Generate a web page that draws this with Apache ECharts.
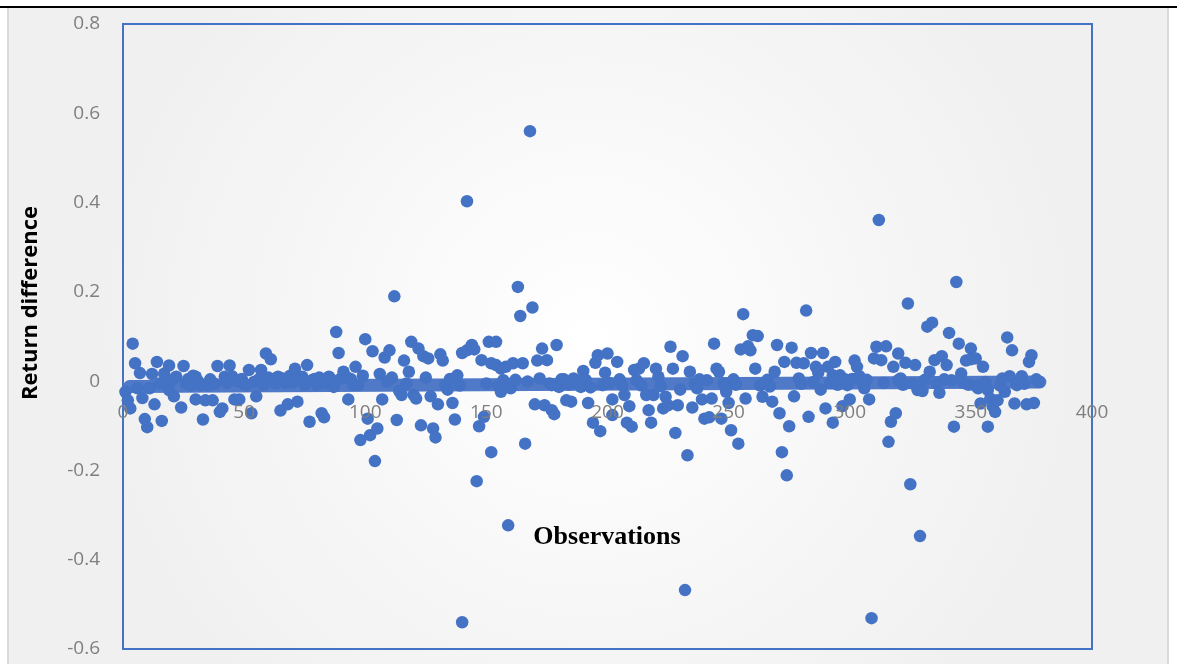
<!DOCTYPE html>
<html>
<head>
<meta charset="utf-8">
<script src="https://cdn.jsdelivr.net/npm/echarts@6/dist/echarts.min.js"></script>
<style>
  html, body { margin: 0; padding: 0; background: #fff; }
  #main { width: 1177px; height: 664px; }
</style>
</head>
<body>
<div id="main"></div>
<script>
// tick values
var xTicks = [0, 50, 100, 150, 200, 250, 300, 350, 400];
var yTicks = [-0.6, -0.4, -0.2, 0, 0.2, 0.4, 0.6, 0.8];

var observations = [
  [1,-0.024],[2,-0.043],[3,-0.061],[4,0.084],[5,0.040],[6,-0.016],[7,0.018],[8,-0.038],[9,-0.085],[10,-0.103],
  [11,-0.016],[12,0.016],[13,-0.052],[14,0.043],[15,-0.005],[16,-0.089],[17,0.017],[18,-0.008],[19,0.035],[19,-0.020],
  [20,0.002],[21,-0.034],[22,0.010],[24,-0.059],[25,0.034],[26,-0.005],[27,0.005],[28,-0.010],[29,0.012],[30,0.010],
  [30,-0.041],[31,0.000],[32,-0.009],[33,-0.086],[34,-0.043],[35,-0.010],[36,0.004],[37,-0.043],[38,-0.006],[39,0.034],
  [40,-0.069],[41,-0.061],[42,0.010],[43,-0.004],[44,0.035],[45,0.011],[46,-0.041],[47,0.000],[48,-0.041],[49,0.005],
  [50,-0.006],[51,-0.009],[52,0.025],[53,-0.072],[54,-0.002],[55,-0.034],[56,0.004],[57,0.025],[58,-0.008],[59,0.062],
  [60,0.008],[61,0.049],[62,0.004],[63,-0.005],[64,0.010],[65,-0.066],[66,0.006],[67,-0.004],[68,-0.052],[69,0.012],
  [70,-0.003],[71,0.028],[72,-0.046],[73,0.006],[74,0.010],[75,-0.008],[76,0.036],[77,-0.091],[78,0.002],[79,0.005],
  [80,-0.008],[81,0.008],[82,-0.072],[83,-0.081],[84,-0.005],[85,0.010],[86,0.004],[87,-0.013],[88,0.110],[89,0.063],
  [90,0.006],[91,0.021],[92,0.010],[93,-0.041],[94,0.005],[95,-0.008],[96,0.032],[97,-0.009],[98,-0.132],[99,0.012],
  [100,0.094],[101,-0.084],[102,-0.121],[103,0.067],[104,-0.179],[105,-0.106],[106,0.016],[107,-0.041],[108,0.053],[109,-0.001],
  [110,0.069],[111,0.008],[112,0.190],[113,-0.087],[114,-0.022],[115,-0.031],[116,0.046],[117,-0.005],[118,0.021],[119,0.088],
  [120,-0.031],[121,-0.039],[122,0.073],[123,-0.099],[124,0.056],[125,0.008],[126,0.051],[127,-0.034],[128,-0.106],[129,-0.126],
  [130,-0.052],[131,0.060],[132,0.046],[133,-0.009],[134,-0.019],[135,0.005],[136,-0.049],[137,-0.086],[138,0.013],[139,-0.010],
  [140,0.063],[140,-0.540],[142,0.069],[142,0.403],[144,0.081],[145,0.071],[146,-0.224],[147,-0.101],[148,0.047],[149,-0.080],
  [150,-0.005],[151,0.088],[152,-0.159],[152,0.040],[154,0.088],[154,0.036],[155,-0.010],[156,0.028],[156,-0.024],[157,0.002],
  [158,0.032],[159,-0.323],[160,-0.016],[161,0.040],[162,0.003],[163,0.211],[164,0.146],[165,0.040],[166,-0.140],[167,-0.001],
  [168,0.560],[169,0.165],[170,-0.052],[171,0.046],[172,0.006],[173,0.073],[174,-0.054],[175,0.047],[176,-0.005],[177,-0.065],
  [177,-0.009],[178,-0.074],[179,0.081],[180,-0.013],[181,0.004],[182,0.004],[183,-0.043],[184,-0.008],[185,-0.046],[185,-0.001],
  [186,0.006],[187,0.002],[188,-0.006],[189,-0.013],[190,0.023],[191,0.003],[192,-0.049],[193,-0.014],[194,-0.093],[195,0.041],
  [196,0.058],[197,-0.112],[198,-0.009],[199,0.019],[200,0.062],[201,-0.004],[202,-0.041],[202,-0.076],[204,0.043],[205,0.004],
  [206,-0.009],[207,-0.031],[208,-0.093],[209,-0.056],[210,-0.102],[211,0.025],[212,0.002],[213,0.028],[214,-0.010],[215,0.040],
  [216,-0.031],[217,-0.065],[218,-0.093],[219,-0.031],[220,0.028],[221,0.010],[222,-0.011],[223,-0.061],[224,-0.035],[225,-0.054],
  [226,0.077],[227,0.028],[228,-0.116],[229,-0.054],[230,-0.019],[231,0.056],[232,-0.468],[233,-0.166],[234,0.021],[235,-0.059],
  [236,-0.005],[237,-0.016],[238,0.004],[239,-0.041],[240,-0.084],[241,0.002],[242,-0.081],[243,-0.039],[244,0.084],[245,0.028],
  [246,0.021],[247,-0.084],[248,-0.005],[249,-0.024],[250,-0.049],[251,-0.110],[252,0.004],[253,-0.008],[254,-0.140],[255,0.071],
  [256,0.150],[257,-0.039],[258,0.078],[259,0.069],[260,0.103],[261,0.028],[262,0.101],[263,-0.010],[264,-0.035],[265,-0.005],
  [266,0.003],[267,-0.012],[268,-0.046],[269,0.021],[270,0.081],[271,-0.072],[272,-0.159],[273,0.043],[274,-0.211],[275,-0.101],
  [276,0.075],[277,-0.034],[278,0.041],[279,0.006],[280,-0.006],[281,0.040],[282,0.158],[283,-0.080],[284,0.063],[285,-0.002],
  [286,0.032],[287,0.019],[288,-0.019],[289,0.063],[290,-0.061],[291,0.032],[292,-0.004],[293,0.013],[293,-0.093],[294,0.043],
  [295,-0.008],[296,0.013],[297,-0.056],[298,0.004],[299,-0.009],[300,-0.041],[301,0.005],[302,0.046],[303,0.032],[304,0.011],
  [305,-0.002],[306,-0.016],[307,0.003],[308,-0.041],[309,-0.531],[310,0.051],[311,0.077],[312,0.361],[313,0.047],[314,-0.004],
  [315,0.078],[316,-0.136],[317,-0.091],[318,0.032],[319,-0.072],[320,0.062],[320,0.002],[321,0.006],[322,-0.008],[323,0.041],
  [324,0.174],[325,-0.231],[326,-0.005],[327,0.036],[328,-0.020],[329,-0.347],[330,-0.022],[331,0.003],[332,0.122],[333,0.021],
  [334,0.131],[335,0.047],[336,-0.006],[337,-0.026],[338,0.056],[339,0.004],[340,0.036],[341,0.108],[342,0.002],[343,-0.102],
  [344,0.222],[345,0.084],[346,0.017],[347,-0.004],[348,0.046],[349,-0.008],[350,0.073],[350,0.049],[352,0.051],[352,-0.011],
  [353,-0.016],[354,-0.050],[355,0.032],[356,-0.002],[357,-0.102],[357,-0.020],[358,-0.039],[359,-0.056],[360,-0.069],[361,-0.043],
  [362,-0.010],[363,0.006],[364,-0.024],[365,0.098],[366,0.011],[367,0.069],[368,-0.050],[369,-0.009],[370,0.002],[371,0.011],
  [372,-0.006],[373,-0.052],[374,0.043],[375,0.058],[376,-0.049],[377,0.004],[378,-0.002]
];

// linear trend (thick band near zero)
var trendX = [2.7, 378.5];
var trendY = [-0.012, -0.002];

var BLUE = '#4472C4';
var GRID = { left: 123, top: 24, width: 969, height: 625 };
// the x axis sits on y = 0: shift it up from the bottom edge
var zeroOffset = -GRID.height * (0 - yTicks[0]) / (yTicks[yTicks.length - 1] - yTicks[0]);

var chart = echarts.init(document.getElementById('main'));

chart.setOption({
    backgroundColor: '#ffffff',
    animation: false,
    graphic: [
        // chart area with soft grey gradient
        { type: 'rect', z: -10, shape: { x: 8, y: 8, width: 1160, height: 660 },
          style: { fill: { type: 'radial', x: 0.5, y: 0.5, r: 0.75,
                   colorStops: [{ offset: 0, color: '#ffffff' }, { offset: 1, color: '#f0f0f0' }] } } },
        { type: 'line', z: -9, shape: { x1: 8, y1: 8, x2: 8, y2: 664 }, style: { stroke: '#d9d9d9', lineWidth: 2 } },
        { type: 'line', z: -9, shape: { x1: 1168, y1: 8, x2: 1168, y2: 664 }, style: { stroke: '#d9d9d9', lineWidth: 2 } },
        { type: 'line', z: -9, shape: { x1: 0, y1: 7, x2: 1177, y2: 7 }, style: { stroke: '#000000', lineWidth: 2 } },
        // axis titles
        { type: 'text', x: 31, y: 303, rotation: Math.PI / 2,
          style: { text: 'Return difference', fill: '#000', font: 'bold 22px "Open Sans"',
                   textAlign: 'center', textVerticalAlign: 'middle' } },
        { type: 'text', x: 607, y: 537,
          style: { text: 'Observations', fill: '#000', font: 'bold 26px "Liberation Serif"',
                   textAlign: 'center', textVerticalAlign: 'middle' } }
    ],
    grid: {
        show: true, left: GRID.left, top: GRID.top, width: GRID.width, height: GRID.height,
        outerBoundsMode: 'none', containLabel: false,
        borderColor: BLUE, borderWidth: 2, backgroundColor: 'transparent'
    },
    xAxis: {
        type: 'value', min: xTicks[0], max: xTicks[xTicks.length - 1], interval: 50,
        position: 'bottom', offset: zeroOffset, zlevel: 1, z: 10,
        axisLine: { show: false, onZero: false },
        axisTick: { show: false }, splitLine: { show: false },
        axisLabel: { color: '#7f7f7f', fontSize: 19, fontFamily: 'Open Sans', margin: 22 }
    },
    yAxis: {
        type: 'value', min: yTicks[0], max: yTicks[yTicks.length - 1], interval: 0.2,
        axisLine: { show: false }, axisTick: { show: false }, splitLine: { show: false },
        axisLabel: { color: '#7f7f7f', fontSize: 19, fontFamily: 'Open Sans', margin: 23,
                     formatter: function (v) { return String(+v.toFixed(1)); } }
    },
    series: [
        {
            type: 'line', z: 1, symbol: 'none', silent: true,
            data: trendX.map(function (x, i) { return [x, trendY[i]]; }),
            lineStyle: { color: '#5079c7', width: 13, cap: 'round' }
        },
        {
            type: 'scatter', z: 3, symbolSize: 12.5,
            data: observations,
            itemStyle: { color: BLUE, opacity: 1 }
        }
    ]
});
</script>
</body>
</html>
